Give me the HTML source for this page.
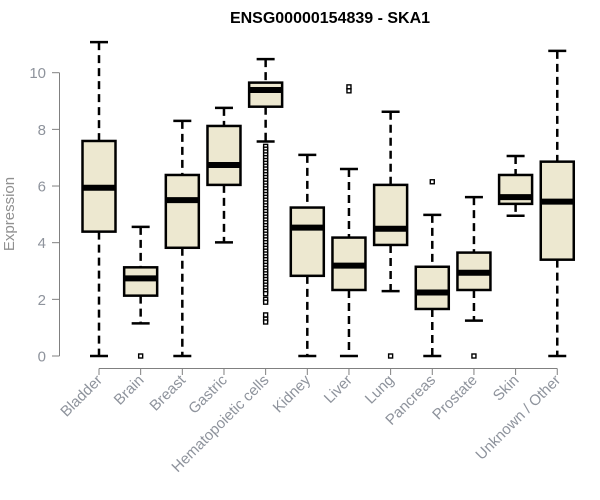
<!DOCTYPE html>
<html><head><meta charset="utf-8"><style>
html,body{margin:0;padding:0;background:#fff;}
svg{display:block;font-family:"Liberation Sans",sans-serif;}
</style></head><body>
<svg id="chart" width="600" height="500" viewBox="0 0 600 500" xmlns="http://www.w3.org/2000/svg">
<text x="330" y="23" text-anchor="middle" font-size="16" font-weight="bold" fill="#000">ENSG00000154839 - SKA1</text>
<text transform="translate(14,214) rotate(-90)" text-anchor="middle" font-size="15" fill="#909090">Expression</text>
<g id="axes"></g>
<g id="boxes"></g>
</svg>
<script>
const categories = ["Bladder","Brain","Breast","Gastric","Hematopoietic cells","Kidney","Liver","Lung","Pancreas","Prostate","Skin","Unknown / Other"];
const whiskerLow = [0,1.15,0,4.01,7.57,0,0,2.29,0,1.25,4.95,0];
const q1 = [4.39,2.13,3.82,6.04,8.8,2.83,2.33,3.92,1.66,2.33,5.37,3.4];
const median = [5.94,2.74,5.5,6.74,9.39,4.53,3.19,4.49,2.24,2.94,5.61,5.45];
const q3 = [7.59,3.13,6.39,8.12,9.65,5.24,4.18,6.04,3.15,3.65,6.39,6.86];
const whiskerHigh = [11.08,4.56,8.3,8.76,10.48,7.1,6.6,8.62,4.98,5.61,7.06,10.77];
const outliers = [[],[0],[],[],
 [7.4,7.3,7.2,7.1,7.0,6.9,6.8,6.7,6.6,6.5,6.4,6.3,6.2,6.1,6.0,5.9,5.8,5.7,5.6,5.5,5.4,5.3,5.2,5.1,5.0,4.9,4.8,4.7,4.6,4.5,4.4,4.3,4.2,4.1,4.0,3.9,3.8,3.7,3.6,3.5,3.4,3.3,3.2,3.1,3.0,2.9,2.8,2.7,2.6,2.5,2.4,2.3,2.2,2.0,1.9,1.45,1.3,1.2],
 [],[9.5,9.36],[0],[6.15],[0],[],[]];
const yTicks = [0,2,4,6,8,10];

const NS="http://www.w3.org/2000/svg";
const y = v => 356 - v*28.33;
const x = i => 99 + i*41.66;
const axes=document.getElementById('axes'), boxes=document.getElementById('boxes');
function mk(tag, attrs, parent){const e=document.createElementNS(NS,tag);for(const k in attrs)e.setAttribute(k,attrs[k]);parent.appendChild(e);return e;}

let yl=mk('line',{x1:59.5,x2:59.5,y1:y(10),y2:y(0),stroke:'#808080','stroke-width':1},axes);


yTicks.forEach(t=>{
  let l=mk('line',{x1:52,x2:59.5,y1:y(t),y2:y(t),stroke:'#808080'},axes);
  
  
  let tx=mk('text',{x:46,y:y(t)+5.5,'text-anchor':'end','font-size':15,fill:'#8e939c'},axes);
  tx.textContent=t;
  
  
});
let xl=mk('line',{x1:x(0),x2:x(categories.length-1),y1:368.5,y2:368.5,stroke:'#808080'},axes);


categories.forEach((c,i)=>{
  let l=mk('line',{x1:x(i),x2:x(i),y1:368.5,y2:375,stroke:'#808080'},axes);
  
  
  let tx=mk('text',{transform:`translate(${x(i)+4},${381}) rotate(-45)`,'text-anchor':'end','font-size':15,fill:'#8e939c'},axes);
  tx.textContent=c;
  
  

  const g=mk('g',{},boxes);
  
  
  const cx=x(i), hw=16.5, cw=9;
  mk('line',{x1:cx,x2:cx,y1:y(whiskerHigh[i]),y2:y(q3[i]),stroke:'#000','stroke-width':2.5,'stroke-dasharray':'8,5'},g);
  mk('line',{x1:cx,x2:cx,y1:y(q1[i]),y2:y(whiskerLow[i]),stroke:'#000','stroke-width':2.5,'stroke-dasharray':'8,5'},g);
  mk('line',{x1:cx-cw,x2:cx+cw,y1:y(whiskerHigh[i]),y2:y(whiskerHigh[i]),stroke:'#000','stroke-width':2.5},g);
  mk('line',{x1:cx-cw,x2:cx+cw,y1:y(whiskerLow[i]),y2:y(whiskerLow[i]),stroke:'#000','stroke-width':2.5},g);
  mk('rect',{x:cx-hw,y:y(q3[i]),width:hw*2,height:y(q1[i])-y(q3[i]),fill:'#ede8d0',stroke:'#000','stroke-width':2.5},g);
  mk('line',{x1:cx-hw,x2:cx+hw,y1:y(median[i]),y2:y(median[i]),stroke:'#000','stroke-width':6},g);
  outliers[i].forEach(v=>{
    let o=mk('rect',{x:cx-2,y:y(v)-2,width:4,height:4,fill:'#fff',stroke:'#000','stroke-width':1.4},g);
    
    
  });
});
</script>
</body></html>
